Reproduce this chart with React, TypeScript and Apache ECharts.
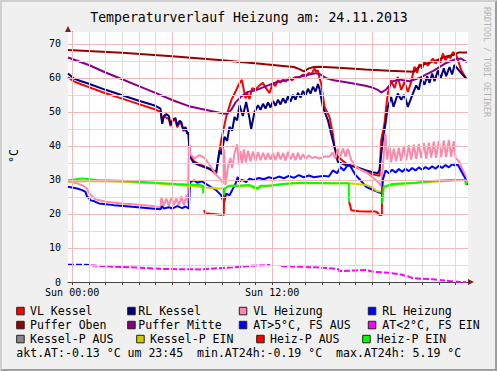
import React, { useEffect, useRef } from "react";
import * as echarts from "echarts";

// ---------- texts ----------
const TITLE = "Temperaturverlauf Heizung am: 24.11.2013";
const Y_UNIT = "°C";
const WATERMARK = "RRDTOOL / TOBI OETIKER";
const STATS = "akt.AT:-0.13 °C um 23:45  min.AT24h:-0.19 °C  max.AT24h: 5.19 °C";

// ---------- axes (hours since Sun 00:00) ----------
const X_MIN = -0.25;
const X_MAX = 23.75;
const Y_MIN = 0;
const Y_MAX = 73.5;
const xLabelHours = [0, 12];
const xLabelTexts = ["Sun 00:00", "Sun 12:00"];
const hourTicks = [0, 1, 2, 3, 4, 5, 6, 7, 8, 9, 10, 11, 12, 13, 14, 15, 16, 17, 18, 19, 20, 21, 22, 23];
const majorHours = [0, 6, 12, 18];
const yLabelValues = [0, 10, 20, 30, 40, 50, 60, 70];
const minorY = [5, 15, 25, 35, 45, 55, 65];
const majorY = [10, 20, 30, 40, 50, 60, 70];

// ---------- series ----------
const seriesNames = [
  "VL Kessel", "RL Kessel", "VL Heizung", "RL Heizung",
  "Puffer Oben", "Puffer Mitte", "AT>5°C, FS AUS", "AT<2°C, FS EIN",
  "Kessel-P AUS", "Kessel-P EIN", "Heiz-P AUS", "Heiz-P EIN",
];

const vlKessel = [
  [-0.25, 60.2], [0.1, 59.0], [0.5, 58.2], [1, 57.3], [2, 55.5], [3, 53.9], [4, 52.3], [5, 50.7], [5.3, 50.0],
  [5.4, 47.0], [5.5, 48.8], [5.65, 48.3], [5.8, 48.0], [5.9, 45.8], [6.05, 47.5], [6.2, 47.6], [6.3, 45.5],
  [6.45, 46.8], [6.55, 46.5], [6.68, 44.3], [6.8, 45.2], [6.9, 43.8], [6.98, 43.5], [7.05, 37.5], [7.3, 35.5],
  [7.64, 34.6], [8.2, 33.5], [8.64, 31.7], [8.94, 41.7], [9.24, 48.5], [9.54, 53.4], [9.84, 56.4], [10.04, 58.5],
  [10.18, 59.4], [10.4, 54.0], [10.5, 55.5], [10.64, 53.8], [10.8, 57.0], [11.0, 56.6], [11.24, 57.8],
  [11.44, 58.6], [11.64, 56.9], [11.84, 55.6], [12.04, 58.4], [12.2, 57.6], [12.34, 59.3], [12.5, 58.6],
  [12.64, 59.5], [12.8, 58.9], [13.04, 60.0], [13.2, 59.3], [13.4, 60.3], [13.64, 60.0], [13.84, 61.0],
  [14.04, 60.5], [14.2, 61.5], [14.34, 61.0], [14.54, 62.8], [14.64, 61.8], [14.74, 62.3], [14.84, 60.0],
  [14.94, 58.4], [15.14, 51.5], [15.44, 48.5], [15.64, 43.6], [15.74, 39.7], [15.94, 36.8], [16.44, 34.8],
  [17.04, 33.8], [17.64, 32.3], [18.04, 31.7], [18.44, 31.2], [18.54, 41.7], [18.74, 46.6], [18.84, 51.5],
  [18.94, 55.4], [19.14, 59.3], [19.34, 57.0], [19.54, 60.3], [19.74, 56.5], [19.94, 58.8], [20.14, 55.9],
  [20.34, 58.8], [20.54, 63.3], [20.7, 61.5], [20.84, 64.0], [21.0, 62.8], [21.14, 64.8], [21.34, 63.6],
  [21.64, 65.7], [21.8, 64.2], [21.94, 65.3], [22.1, 64.5], [22.24, 67.2], [22.4, 65.2], [22.54, 66.3],
  [22.7, 65.8], [22.84, 67.6], [23.04, 66.8], [23.34, 62.3], [23.64, 59.8],
];

const rlKessel = [
  [-0.25, 61.3], [0.1, 59.8], [0.5, 59.1], [1, 58.3], [2, 56.5], [3, 54.9], [4, 53.3], [5, 51.8], [5.3, 51.0],
  [5.4, 46.5], [5.5, 48.8], [5.65, 49.4], [5.8, 48.8], [5.9, 46.3], [6.05, 47.8], [6.2, 48.2], [6.3, 46.0],
  [6.45, 47.4], [6.55, 47.0], [6.68, 44.6], [6.8, 45.6], [6.9, 43.6], [6.98, 44.0], [7.05, 37.0], [7.3, 35.0],
  [7.64, 34.3], [8.2, 33.3], [8.64, 32.3], [8.84, 38.8], [8.95, 37.5], [9.14, 42.7], [9.3, 41.5], [9.44, 45.6],
  [9.6, 44.5], [9.74, 48.5], [9.9, 47.5], [10.04, 52.0], [10.24, 48.8], [10.44, 52.9], [10.64, 48.1],
  [10.74, 45.0], [10.94, 50.0], [11.0, 50.5], [11.15, 52.0], [11.3, 50.6], [11.45, 52.4], [11.6, 51.0],
  [11.75, 52.8], [11.9, 51.3], [12.05, 53.2], [12.2, 51.8], [12.35, 53.6], [12.5, 52.2], [12.65, 54.0],
  [12.8, 52.6], [12.95, 54.6], [13.1, 53.0], [13.25, 55.0], [13.4, 53.6], [13.55, 55.6], [13.7, 54.2],
  [13.85, 56.2], [14.0, 54.8], [14.15, 56.8], [14.3, 55.4], [14.45, 57.4], [14.6, 56.0], [14.75, 58.2],
  [14.85, 56.5], [15.04, 51.5], [15.34, 47.6], [15.54, 43.6], [15.74, 39.7], [15.94, 35.3], [16.44, 34.3],
  [17.04, 33.8], [17.64, 32.8], [18.04, 32.3], [18.34, 32.0], [18.44, 33.0], [18.64, 41.7], [18.8, 46.6],
  [18.94, 51.5], [19.14, 54.4], [19.28, 51.5], [19.54, 55.4], [19.74, 53.6], [19.94, 55.0], [20.14, 51.5],
  [20.44, 55.4], [20.64, 57.8], [20.8, 56.5], [20.94, 59.8], [21.14, 58.0], [21.3, 60.5], [21.44, 58.5],
  [21.6, 61.3], [21.74, 59.0], [21.94, 62.2], [22.1, 59.8], [22.3, 62.8], [22.44, 60.5], [22.64, 63.2],
  [22.8, 61.0], [22.94, 63.8], [23.24, 62.0], [23.64, 59.8],
];

const vlHeizung = [
  [-0.25, 29.6], [0.3, 29.0], [0.7, 28.2], [0.9, 27.4], [1.0, 26.2], [1.2, 25.2], [1.4, 24.3], [2, 23.6],
  [3, 23.1], [4, 22.7], [5, 22.3], [5.3, 21.8], [5.35, 25.0], [5.5, 22.5], [5.65, 24.5], [5.8, 22.4],
  [5.95, 24.9], [6.1, 22.6], [6.25, 24.6], [6.4, 22.5], [6.55, 25.2], [6.7, 22.6], [6.85, 25.5], [6.95, 23.0],
  [7.0, 39.7], [7.1, 37.5], [7.34, 36.3], [7.64, 37.3], [7.94, 36.5], [8.34, 33.8], [8.64, 31.5], [8.9, 30.2],
  [9.05, 29.0], [9.12, 39.0], [9.2, 28.5], [9.35, 34.0], [9.5, 36.5], [9.6, 33.5], [9.75, 38.0], [9.9, 40.5],
  [10.0, 34.5], [10.1, 38.5], [10.2, 35.0], [10.3, 39.0], [10.42, 35.2], [10.55, 38.6], [10.7, 35.5],
  [10.85, 38.4], [11.0, 35.6], [11.15, 38.2], [11.3, 35.8], [11.45, 38.0], [11.6, 35.9], [11.75, 37.9],
  [11.9, 36.0], [12.05, 37.8], [12.2, 35.8], [12.35, 38.2], [12.5, 36.0], [12.65, 37.9], [12.8, 35.7],
  [12.95, 38.3], [13.1, 36.0], [13.25, 37.8], [13.4, 35.8], [13.55, 38.0], [13.7, 36.0], [13.85, 37.6],
  [14.0, 36.2], [14.2, 37.2], [14.4, 36.4], [14.6, 36.8], [14.8, 36.3], [15.0, 36.6], [15.2, 37.0],
  [15.4, 36.8], [15.64, 38.0], [15.8, 36.3], [15.94, 39.2], [16.1, 37.0], [16.25, 39.2], [16.4, 36.8],
  [16.54, 39.2], [16.75, 35.8], [17.0, 34.0], [17.3, 33.0], [17.64, 32.3], [18.0, 30.9], [18.24, 29.9],
  [18.44, 28.9], [18.54, 28.2], [18.64, 33.8], [18.8, 43.6], [18.9, 36.0], [19.04, 40.0], [19.14, 35.2],
  [19.3, 39.2], [19.44, 35.5], [19.6, 39.4], [19.74, 35.6], [19.9, 40.0], [20.04, 35.8], [20.2, 40.2],
  [20.34, 36.0], [20.5, 40.4], [20.64, 36.2], [20.8, 40.6], [20.94, 36.4], [21.1, 40.9], [21.24, 36.3],
  [21.4, 41.0], [21.54, 36.6], [21.7, 41.3], [21.84, 36.5], [22.0, 41.5], [22.14, 36.8], [22.3, 41.6],
  [22.44, 36.7], [22.6, 41.8], [22.74, 36.8], [22.9, 41.4], [23.0, 36.5], [23.2, 35.5], [23.4, 33.3],
  [23.64, 30.9],
];

const rlHeizung = [
  [-0.25, 28.0], [0.3, 27.5], [0.6, 27.0], [0.8, 26.5], [0.9, 25.0], [1.0, 24.8], [1.1, 24.0], [1.3, 23.8],
  [1.6, 23.1], [2.5, 22.6], [3.6, 22.1], [4.6, 21.7], [5.3, 21.4], [5.4, 22.3], [5.5, 21.6], [5.8, 22.0],
  [6.0, 21.6], [6.3, 22.3], [6.6, 21.7], [6.8, 22.2], [7.0, 21.6], [7.08, 29.4], [7.3, 29.9], [7.5, 29.2],
  [7.8, 29.6], [8.0, 28.9], [8.3, 28.0], [8.64, 27.0], [8.94, 25.5], [9.1, 23.1], [9.24, 26.0], [9.44, 25.5],
  [9.6, 27.0], [9.8, 28.9], [9.94, 30.9], [10.0, 29.5], [10.2, 30.0], [10.44, 29.4], [10.64, 30.4],
  [10.9, 30.0], [11.2, 30.6], [11.5, 30.2], [11.8, 30.8], [12.1, 30.4], [12.4, 31.0], [12.7, 30.5],
  [13.0, 31.2], [13.3, 30.6], [13.6, 31.4], [13.9, 30.8], [14.2, 31.3], [14.5, 30.8], [14.8, 31.0],
  [15.1, 31.2], [15.4, 31.0], [15.64, 32.8], [15.9, 32.0], [16.1, 33.8], [16.3, 32.8], [16.6, 34.8],
  [16.75, 33.5], [17.0, 31.5], [17.3, 29.9], [17.64, 28.0], [18.0, 27.2], [18.4, 26.4], [18.6, 26.0],
  [18.64, 30.0], [18.8, 32.8], [19.0, 32.0], [19.2, 33.0], [19.4, 32.2], [19.6, 33.2], [19.8, 32.4],
  [20.0, 33.3], [20.2, 32.6], [20.4, 33.5], [20.6, 32.8], [20.8, 33.7], [21.0, 33.0], [21.2, 33.8],
  [21.4, 33.2], [21.6, 34.0], [21.8, 33.3], [22.0, 34.2], [22.2, 33.5], [22.4, 34.4], [22.6, 33.7],
  [22.8, 34.6], [23.0, 34.2], [23.1, 34.8], [23.3, 33.0], [23.5, 31.2], [23.64, 30.0], [23.7, 28.5],
];

const pufferOben = [
  [-0.25, 68.2], [3, 67.4], [6, 66.4], [9, 65.2], [11.6, 64.0], [12.5, 63.6], [13.3, 63.2], [13.64, 62.6],
  [13.9, 61.9], [14.2, 62.8], [14.5, 63.2], [14.85, 63.3], [16, 63.0], [17.6, 62.5], [19, 62.1], [20.5, 61.8],
  [20.9, 63.7], [21.64, 64.8], [22.44, 66.3], [22.9, 66.8], [23.2, 67.5], [23.7, 67.5],
];

const pufferMitte = [
  [-0.25, 66.0], [1, 63.8], [2, 61.6], [3, 59.6], [4, 57.6], [5, 55.6], [6, 53.5], [7, 51.7], [7.64, 51.0],
  [8.4, 50.2], [9.0, 49.6], [9.3, 49.4], [9.54, 50.6], [9.8, 52.8], [10.14, 54.5], [10.54, 55.9],
  [11.04, 56.4], [11.64, 57.6], [12.3, 58.8], [13.0, 59.5], [14.0, 60.8], [14.6, 61.4], [14.9, 61.0],
  [15.2, 60.0], [15.7, 59.3], [16.7, 58.5], [17.6, 57.7], [18.0, 57.2], [18.34, 56.5], [18.54, 55.7],
  [18.84, 56.6], [19.24, 59.0], [19.64, 59.5], [20.24, 59.0], [20.84, 60.0], [21.64, 62.0], [22.44, 64.4],
  [23.04, 65.6], [23.34, 65.7], [23.7, 64.6],
];

const atAbove5 = [[-0.25, 5.1], [0.5, 5.1], [1.14, 5.0]];

const atBelow2 = [
  [1.14, 4.9], [2.5, 4.5], [3.64, 4.3], [5.64, 3.8], [7.64, 3.7], [9.64, 4.3], [10.84, 4.8], [11.88, 5.0],
  [11.9, null], [12.54, 4.7], [14.64, 4.3], [15.64, 4.0], [15.95, 3.8], [16.04, 3.2], [17.0, 3.4],
  [17.64, 3.5], [18.04, 3.0], [19.0, 2.7], [19.64, 2.3], [20.2, 1.6], [20.44, 1.1], [21.64, 0.8],
  [22.64, 0.3], [23.64, -0.1],
];

const kesselPAus: number[][] = [];

const kesselPEin = [
  [-0.25, 29.5], [1.5, 29.7], [3, 29.5], [4.5, 29.2], [6.24, 28.6], [7.64, 28.0], [8.64, 27.5], [9.14, 27.5],
  [9.5, 28.3], [10.64, 28.3], [10.9, 27.6], [11.1, 27.2], [11.3, 28.0], [11.64, 28.2], [12.64, 28.8],
  [13.64, 29.1], [15.64, 29.0], [16.6, 29.0], [17.64, 28.5], [18.0, 27.8], [18.24, 26.8], [18.44, 26.6],
  [18.6, 26.5], [18.7, 28.0], [19.64, 28.8], [21.64, 29.5], [23.6, 30.0], [23.7, 29.0],
];

const heizPAus = [
  [7.9, 21.1], [8.0, 20.2], [9.05, 19.7], [9.1, 19.7], [9.12, 27.5], [9.13, null],
  [16.62, 23.6], [16.75, 21.1], [17.2, 20.8], [17.64, 20.7], [18.2, 20.7], [18.3, 20.5], [18.44, 19.7],
  [18.58, 19.7], [18.6, 28.0],
];

const heizPEin = [
  [-0.25, 29.9], [0.6, 30.4], [1.5, 30.0], [3, 29.8], [4.5, 29.3], [6.24, 28.8], [7.64, 28.5], [7.85, 28.3],
  [7.86, 26.0], [7.87, null], [9.1, 25.5], [9.15, 27.5], [9.4, 28.3], [10, 28.3], [10.64, 28.5], [10.9, 28.0],
  [11.1, 27.5], [11.3, 28.3], [11.64, 28.3], [12.0, 28.4], [12.64, 28.8], [13.64, 29.2], [15.64, 29.0],
  [16.6, 29.0], [16.61, 23.6], [16.62, null], [18.6, 23.1], [18.7, 28.0], [19.2, 28.8], [20.64, 29.2],
  [21.64, 29.7], [22.64, 30.0], [23.55, 30.0], [23.64, 28.5],
];

const seriesData = [
  vlKessel, rlKessel, vlHeizung, rlHeizung, pufferOben, pufferMitte,
  atAbove5, atBelow2, kesselPAus, kesselPEin, heizPAus, heizPEin,
];

// ---------- styles ----------
const seriesColors = [
  "#FF0000", "#000080", "#FF88AA", "#0000FF", "#990000", "#880088",
  "#0000FF", "#FF00FF", "#888888", "#CCCC00", "#FF0000", "#00FF00",
];
const dashedSeries = [6, 7];

const legendLayout = [
  { box: 16.7, text: 30, y: 311 }, { box: 127.7, text: 138.3, y: 311 },
  { box: 239.3, text: 253.3, y: 311 }, { box: 368.3, text: 382.3, y: 311 },
  { box: 16.7, text: 30, y: 325 }, { box: 127.7, text: 138.3, y: 325 },
  { box: 239.3, text: 253.3, y: 325 }, { box: 368.3, text: 382.3, y: 325 },
  { box: 16.7, text: 30, y: 339 }, { box: 136.7, text: 150, y: 339 },
  { box: 256.7, text: 270, y: 339 }, { box: 362.7, text: 376.7, y: 339 },
];

const W = 497;
const H = 371;
const GRID = { left: 68, top: 32, width: 400, height: 250 };
const MONO = "'DejaVu Sans Mono', monospace";
const MINOR_COLOR = "#DCDCDC";
const MAJOR_COLOR = "#F2B9B9";
const TEXT_FONT = `11.55px ${MONO}`;

export default function App() {
  const ref = useRef<HTMLDivElement>(null);

  useEffect(() => {
    document.body.style.margin = "0";
    document.body.style.background = "#F0F0F0";
    if (!ref.current) return;
    const chart = echarts.init(ref.current, null, { renderer: "svg" });

    const gridLines: any[] = [];
    hourTicks.filter((h) => !majorHours.includes(h)).forEach((h) =>
      gridLines.push({ xAxis: h, lineStyle: { color: MINOR_COLOR, width: 1, type: "solid" } }));
    minorY.forEach((v) =>
      gridLines.push({ yAxis: v, lineStyle: { color: MINOR_COLOR, width: 1, type: "solid" } }));
    majorHours.forEach((h) =>
      gridLines.push({ xAxis: h, lineStyle: { color: MAJOR_COLOR, width: 1, type: "solid" } }));
    majorY.forEach((v) =>
      gridLines.push({ yAxis: v, lineStyle: { color: MAJOR_COLOR, width: 1, type: "solid" } }));

    const series: any[] = [
      {
        type: "line",
        name: "__grid",
        data: [],
        z: 1,
        silent: true,
        markLine: {
          silent: true,
          symbol: ["none", "none"],
          label: { show: false },
          animation: false,
          data: gridLines,
        },
      },
    ];
    seriesNames.forEach((name, i) => {
      series.push({
        type: "line",
        name,
        data: seriesData[i],
        showSymbol: false,
        symbol: "none",
        connectNulls: false,
        z: 2,
        lineStyle: {
          color: seriesColors[i],
          width: 2,
          type: dashedSeries.includes(i) ? [6, 2] : "solid",
        },
        itemStyle: { color: seriesColors[i] },
      });
    });

    const graphics: any[] = [
      // frame shading
      {
        type: "polygon",
        shape: { points: [[0, 0], [W, 0], [W - 2, 2], [2, 2], [2, H - 2], [0, H]] },
        style: { fill: "#CFCFCF" },
      },
      {
        type: "polygon",
        shape: { points: [[W, 0], [W, H], [0, H], [2, H - 2], [W - 2, H - 2], [W - 2, 2]] },
        style: { fill: "#9E9E9E" },
      },
      // axis arrows
      {
        type: "polygon",
        shape: { points: [[65, 32], [71, 32], [68, 26]] },
        style: { fill: "#801F1F" },
      },
      {
        type: "polygon",
        shape: { points: [[468, 279], [468, 285], [474, 282]] },
        style: { fill: "#801F1F" },
      },
      {
        type: "text",
        x: 249,
        y: 17,
        style: { text: TITLE, font: `13.2px ${MONO}`, fill: "#000", textAlign: "center", textVerticalAlign: "middle" },
      },
      {
        type: "text",
        x: 14,
        y: 156,
        rotation: Math.PI / 2,
        style: { text: Y_UNIT, font: TEXT_FONT, fill: "#000", textAlign: "center", textVerticalAlign: "middle" },
      },
      {
        type: "text",
        x: 487,
        y: 62,
        rotation: -Math.PI / 2,
        style: { text: WATERMARK, font: `8.3px ${MONO}`, fill: "#B4B4B4", textAlign: "center", textVerticalAlign: "middle" },
      },
      {
        type: "text",
        x: 16.3,
        y: 353.3,
        style: { text: STATS, font: TEXT_FONT, fill: "#000", textAlign: "left", textVerticalAlign: "middle" },
      },
    ];
    seriesNames.forEach((name, i) => {
      const l = legendLayout[i];
      graphics.push({
        type: "rect",
        shape: { x: l.box, y: l.y - 3.7, width: 7.5, height: 7.5 },
        style: { fill: seriesColors[i], stroke: "#222", lineWidth: 1 },
      });
      graphics.push({
        type: "text",
        x: l.text,
        y: l.y,
        style: { text: name, font: TEXT_FONT, fill: "#000", textAlign: "left", textVerticalAlign: "middle" },
      });
    });

    chart.setOption({
      animation: false,
      backgroundColor: "#F0F0F0",
      grid: { ...GRID, show: true, backgroundColor: "#FFFFFF", borderWidth: 0, containLabel: false },
      tooltip: { show: false },
      xAxis: {
        type: "value",
        min: X_MIN,
        max: X_MAX,
        axisLine: { show: true, lineStyle: { color: "#444", width: 1 } },
        axisTick: { show: true, customValues: hourTicks, length: 3, lineStyle: { color: "#444" } },
        axisLabel: {
          show: true,
          customValues: xLabelHours,
          formatter: (v: number) => {
            const k = xLabelHours.indexOf(Math.round(v * 1000) / 1000);
            return k >= 0 ? xLabelTexts[k] : "";
          },
          color: "#000",
          fontFamily: MONO,
          fontSize: 10,
          margin: 5,
        },
        splitLine: { show: false },
      },
      yAxis: {
        type: "value",
        min: Y_MIN,
        max: Y_MAX,
        axisLine: { show: true, lineStyle: { color: "#444", width: 1 } },
        axisTick: { show: true, customValues: yLabelValues, length: 3, lineStyle: { color: "#444" } },
        axisLabel: {
          show: true,
          customValues: yLabelValues,
          formatter: (v: number) => (yLabelValues.includes(Math.round(v)) && Math.abs(v - Math.round(v)) < 1e-6 ? String(Math.round(v)) : ""),
          color: "#000",
          fontFamily: MONO,
          fontSize: 10,
          margin: 7,
        },
        splitLine: { show: false },
      },
      series,
      graphic: { elements: graphics },
    });

    return () => chart.dispose();
  }, []);

  return (
    <div
      ref={ref}
      style={{ position: "relative", width: W, height: H }}
    />
  );
}
